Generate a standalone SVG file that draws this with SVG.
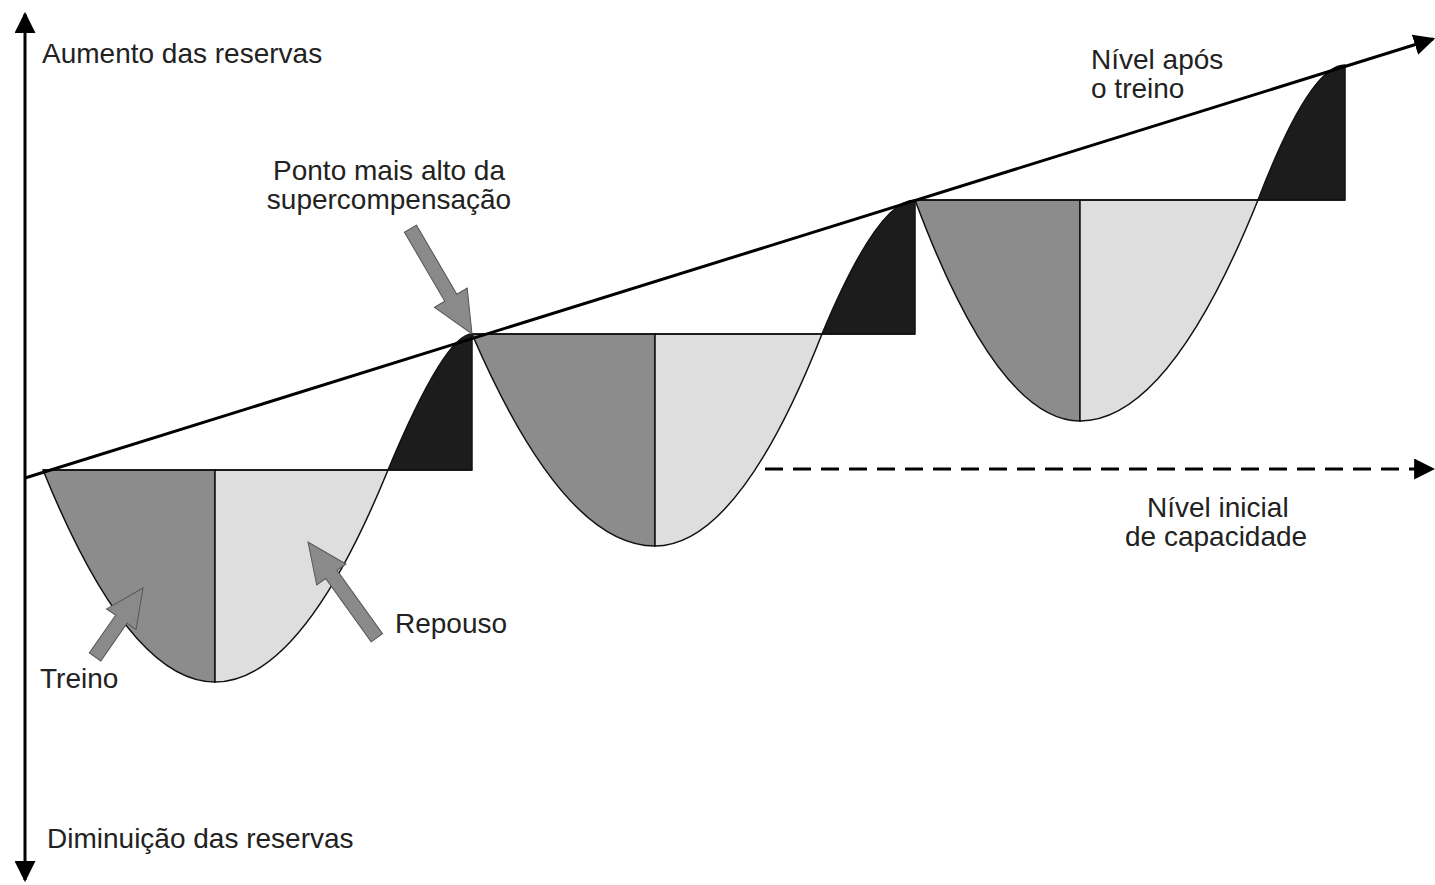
<svg xmlns="http://www.w3.org/2000/svg" width="1435" height="885" viewBox="0 0 1435 885">
  <style>
    .lbl { font-family: "Liberation Sans", Arial, sans-serif; font-size: 28px; fill: #222; }
    .train { fill: #8c8c8c; stroke: #111; stroke-width: 1.5; }
    .rest { fill: #dedede; stroke: #111; stroke-width: 1.5; }
    .gain { fill: #1c1c1c; stroke: #111; stroke-width: 1.5; }
    .base { stroke: #111; stroke-width: 1.5; fill: none; }
    .axis { stroke: #000; stroke-width: 3; fill: none; }
    .blk { fill: #8a8a8a; stroke: #555; stroke-width: 1; }
  </style>
  <defs>
    <marker id="ah" viewBox="0 0 10 10" refX="9" refY="5" markerWidth="7" markerHeight="7" markerUnits="strokeWidth" orient="auto">
      <path d="M0,0 L10,5 L0,10 z" fill="#000"/>
    </marker>
  </defs>
  <rect width="1435" height="885" fill="#fff"/>

  <g id="wave1">
    <path class="train" d="M43,470 Q129,682 215,682 L215,470 Z"/>
    <path class="rest" d="M215,470 L215,682 Q301.5,682 388,470 Z"/>
    <path class="gain" d="M388,470 Q445,334 472,334 L472,470 Z"/>
  </g>
  <g id="wave2">
    <path class="train" d="M472,334 Q563.5,546 655,546 L655,334 Z"/>
    <path class="rest" d="M655,334 L655,546 Q738.5,546 822,334 Z"/>
    <path class="gain" d="M822,334 Q878,200 915,200 L915,334 Z"/>
  </g>
  <g id="wave3">
    <path class="train" d="M915,200 Q997.5,421 1080,421 L1080,200 Z"/>
    <path class="rest" d="M1080,200 L1080,421 Q1169,421 1258,200 Z"/>
    <path class="gain" d="M1258,200 Q1310,65 1345,65 L1345,200 Z"/>
  </g>
  <g id="baselines">
    <line class="base" x1="43" y1="470" x2="472" y2="470"/>
    <line class="base" x1="472" y1="334" x2="915" y2="334"/>
    <line class="base" x1="915" y1="200" x2="1345" y2="200"/>
  </g>

  <g id="connectors">
    <line class="axis" x1="25" y1="450" x2="25" y2="14" marker-end="url(#ah)"/>
    <line class="axis" x1="25" y1="450" x2="25" y2="880" marker-end="url(#ah)"/>
    <line class="axis" x1="25" y1="478" x2="1433" y2="39" marker-end="url(#ah)"/>
    <line class="axis" x1="765" y1="469" x2="1433" y2="469" stroke-dasharray="18,10" marker-end="url(#ah)"/>
    <g id="arrow-peak" transform="translate(472,334) rotate(59.7)">
      <polygon class="blk" points="0,0 -42,-19 -42,-7 -122,-7 -122,7 -42,7 -42,19"/>
    </g>
    <g id="arrow-treino" transform="translate(143,588) rotate(-55.2)">
      <polygon class="blk" points="0,0 -38,-18 -38,-7 -84,-7 -84,7 -38,7 -38,18"/>
    </g>
    <g id="arrow-repouso" transform="translate(308,542) rotate(-125.7)">
      <polygon class="blk" points="0,0 -40,-18 -40,-7 -118,-7 -118,7 -40,7 -40,18"/>
    </g>
  </g>

  <g id="labels">
    <text id="t-aumento" class="lbl" x="42" y="63">Aumento das reservas</text>
    <text id="t-diminuicao" class="lbl" x="47" y="848">Diminuição das reservas</text>
    <text id="t-nivel-apos" class="lbl" x="1091" y="69">Nível após<tspan x="1091" y="98">o treino</tspan></text>
    <text id="t-ponto" class="lbl" x="389" y="180" text-anchor="middle">Ponto mais alto da<tspan x="389" y="209">supercompensação</tspan></text>
    <text id="t-nivel-inicial" class="lbl" x="1147" y="517">Nível inicial<tspan x="1125" y="546">de capacidade</tspan></text>
    <text id="t-repouso" class="lbl" x="395" y="633">Repouso</text>
    <text id="t-treino" class="lbl" x="40" y="688">Treino</text>
  </g>
</svg>
